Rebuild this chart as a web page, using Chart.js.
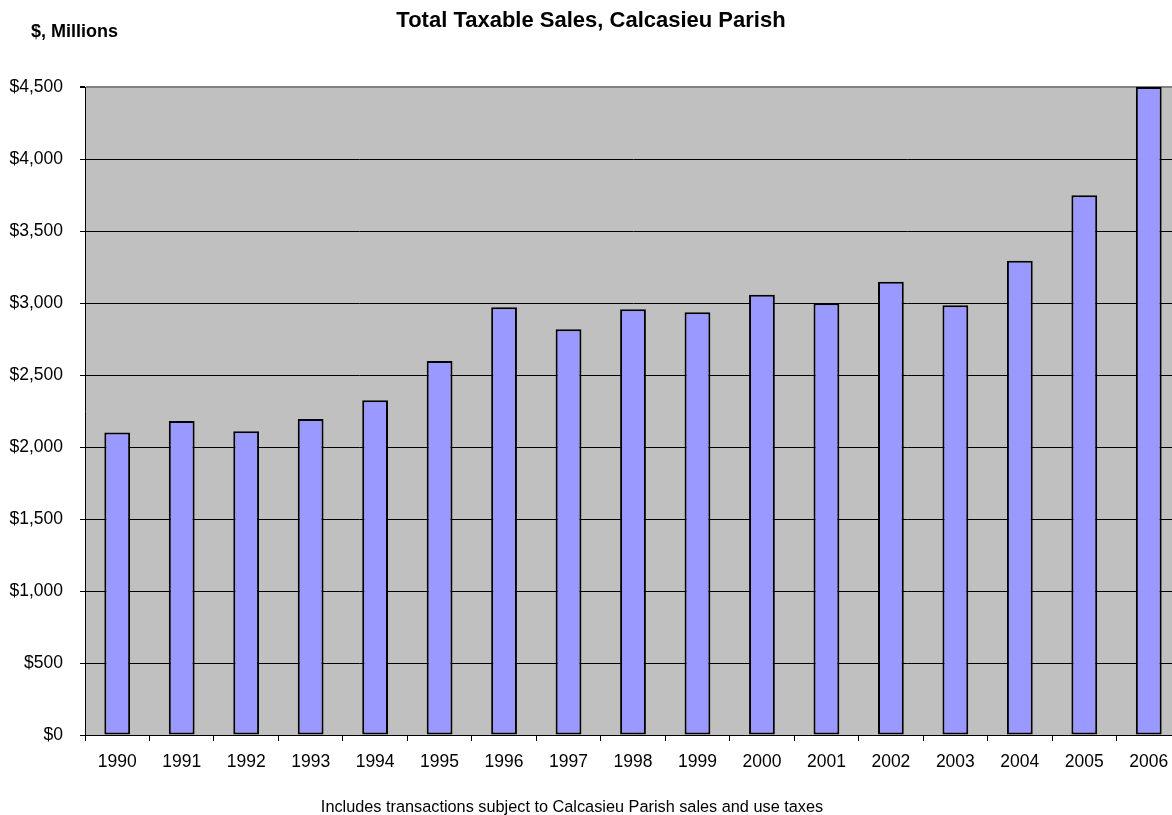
<!DOCTYPE html>
<html>
<head>
<meta charset="utf-8">
<script src="https://cdn.jsdelivr.net/npm/chart.js@4.4.0/dist/chart.umd.min.js"></script>
<style>
  html, body { margin: 0; padding: 0; background: #fff; overflow: hidden; }
  canvas { display: block; }
</style>
</head>
<body>
<canvas id="myChart" width="1181" height="815"></canvas>
<script>
// yearly taxable sales, $ millions
const years = ['1990', '1991', '1992', '1993', '1994', '1995', '1996', '1997', '1998',
  '1999', '2000', '2001', '2002', '2003', '2004', '2005', '2006'];
const sales = [2100, 2180, 2110, 2195, 2325, 2597, 2970, 2817, 2956,
  2935, 3058, 2998, 3148, 2984, 3294, 3748, 4500];

const titleText = 'Total Taxable Sales, Calcasieu Parish';
const unitText = '$, Millions';
const noteText = 'Includes transactions subject to Calcasieu Parish sales and use taxes';

const FONT = '"Liberation Sans", Arial, sans-serif';

// grey plot background plus the heading / note texts
const decorations = {
  id: 'decorations',
  beforeDraw(chart) {
    const { ctx, chartArea: a } = chart;
    ctx.save();
    ctx.fillStyle = '#c0c0c0';
    ctx.fillRect(a.left, a.top, a.right - a.left, a.bottom - a.top);
    ctx.restore();
  },
  afterDraw(chart) {
    const ctx = chart.ctx;
    ctx.save();
    ctx.fillStyle = '#000';
    ctx.textBaseline = 'alphabetic';
    ctx.font = 'bold 22px ' + FONT;
    ctx.textAlign = 'center';
    ctx.fillText(titleText, 591, 27);
    ctx.font = 'bold 18px ' + FONT;
    ctx.textAlign = 'left';
    ctx.fillText(unitText, 31, 37);
    ctx.font = '16.3px ' + FONT;
    ctx.textAlign = 'center';
    ctx.fillText(noteText, 572, 812);
    ctx.restore();
  }
};

var ctx = document.getElementById('myChart').getContext('2d');
var chart = new Chart(ctx, {
  type: 'bar',
  data: {
    labels: years,
    datasets: [{
      data: sales,
      backgroundColor: '#9999ff',
      borderColor: '#000',
      borderWidth: 2,
      borderSkipped: false,
      barPercentage: 0.4,
      categoryPercentage: 1.0
    }]
  },
  options: {
    responsive: false,
    animation: false,
    layout: { padding: { top: 87, left: 0, right: 0, bottom: 0 } },
    plugins: {
      legend: { display: false },
      tooltip: { enabled: false }
    },
    scales: {
      x: {
        offset: true,
        grid: {
          offset: true,
          drawOnChartArea: false,
          color: '#000',
          tickLength: 6
        },
        border: { color: '#000', width: 1 },
        ticks: {
          color: '#000',
          font: { family: FONT, size: 17.5 },
          padding: 11,
          maxRotation: 0,
          autoSkip: false
        },
        afterFit(scale) { scale.height = 80; }
      },
      y: {
        min: 0,
        max: 4500,
        grid: {
          color: (c) => c.tick && c.tick.value === 4500 ? '#808080' : '#000',
          lineWidth: (c) => c.tick && c.tick.value === 4500 ? 2 : 1,
          tickLength: 5,
          tickColor: '#000'
        },
        border: { color: '#000', width: 1 },
        ticks: {
          stepSize: 500,
          color: '#000',
          font: { family: FONT, size: 17.5 },
          padding: 17,
          callback: (v) => '$' + v.toLocaleString('en-US')
        },
        afterFit(scale) { scale.width = 85; }
      }
    }
  },
  plugins: [decorations]
});
</script>
</body>
</html>
